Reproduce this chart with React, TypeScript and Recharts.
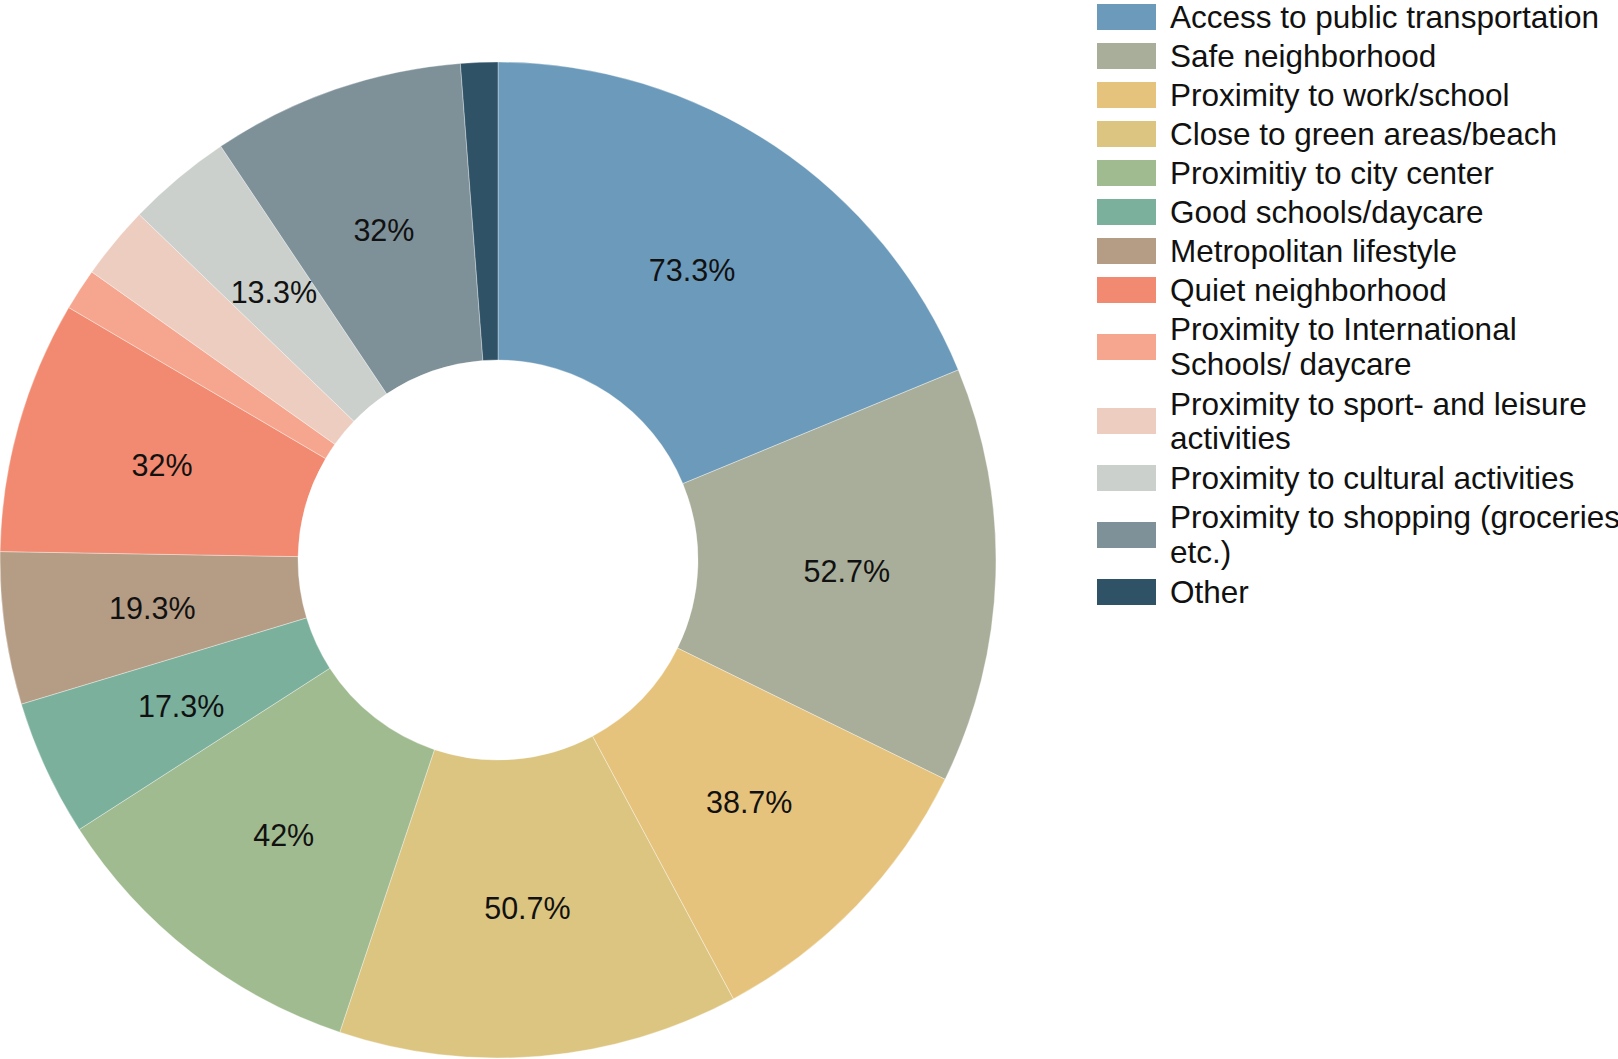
import React from 'react';
import { PieChart, Pie, Cell, Legend } from 'recharts';

const categories = [
  'Access to public transportation',
  'Safe neighborhood',
  'Proximity to work/school',
  'Close to green areas/beach',
  'Proximitiy to city center',
  'Good schools/daycare',
  'Metropolitan lifestyle',
  'Quiet neighborhood',
  'Proximity to International Schools/ daycare',
  'Proximity to sport- and leisure activities',
  'Proximity to cultural activities',
  'Proximity to shopping (groceries etc.)',
  'Other',
];

const legendLines: string[][] = [
  ['Access to public transportation'],
  ['Safe neighborhood'],
  ['Proximity to work/school'],
  ['Close to green areas/beach'],
  ['Proximitiy to city center'],
  ['Good schools/daycare'],
  ['Metropolitan lifestyle'],
  ['Quiet neighborhood'],
  ['Proximity to International', 'Schools/ daycare'],
  ['Proximity to sport- and leisure', 'activities'],
  ['Proximity to cultural activities'],
  ['Proximity to shopping (groceries', 'etc.)'],
  ['Other'],
];

const values = [73.3, 52.7, 38.7, 50.7, 42, 17.3, 19.3, 32, 5.3, 9.3, 13.3, 32, 4.7];
const showLabel = [true, true, true, true, true, true, true, true, false, false, true, true, false];

const colors = [
  '#6c9aba',
  '#a9ae9a',
  '#e6c37d',
  '#dcc580',
  '#a1bb90',
  '#7bb09d',
  '#b59c85',
  '#f18a70',
  '#f6a68f',
  '#eecdc1',
  '#cbd0cc',
  '#7e9098',
  '#2f5267',
];

const data = categories.map((name, i) => ({ name, value: values[i] }));

const FONT = '"Liberation Sans", Arial, sans-serif';
const RAD = Math.PI / 180;

const renderLabel = (props: any) => {
  const { cx, cy, midAngle, innerRadius, outerRadius, index, value } = props;
  if (!showLabel[index]) return null;
  const r = (innerRadius + outerRadius) / 2;
  const x = cx + r * Math.cos(-midAngle * RAD);
  const y = cy + r * Math.sin(-midAngle * RAD);
  return (
    <text
      x={x}
      y={y}
      fill="#111"
      textAnchor="middle"
      dominantBaseline="central"
      style={{ fontFamily: FONT, fontSize: 30.5 }}
    >
      {`${value}%`}
    </text>
  );
};

const renderLegend = () => (
  <div style={{ fontFamily: FONT, fontSize: 31.5, color: '#111', width: 521, overflow: 'hidden' }}>
    {legendLines.map((lines, i) => {
      const multi = lines.length > 1;
      return (
        <div
          key={i}
          style={{
            display: 'flex',
            alignItems: 'center',
            marginTop: multi ? 1.5 : 0,
            marginBottom: multi ? 5.5 : 5,
          }}
        >
          <div style={{ width: 59, height: 26, background: colors[i], flex: '0 0 auto', marginRight: 14 }} />
          <div style={{ lineHeight: multi ? '34.5px' : '34px', whiteSpace: 'nowrap' }}>
            {lines.map((l, j) => (
              <div key={j}>{l}</div>
            ))}
          </div>
        </div>
      );
    })}
  </div>
);

export default function App() {
  return (
    <div style={{ position: 'absolute', left: 0, top: 0, width: 1618, height: 1059, overflow: 'hidden', background: '#fff' }}>
      <PieChart width={1618} height={1059} margin={{ top: 0, right: 0, bottom: 0, left: 0 }}>
        <Pie
          data={data}
          dataKey="value"
          nameKey="name"
          cx={498}
          cy={560}
          innerRadius={200}
          outerRadius={498}
          startAngle={90}
          endAngle={-270}
          stroke="rgba(255,255,255,0.35)"
          strokeWidth={1}
          label={renderLabel}
          labelLine={false}
          isAnimationActive={false}
        >
          {data.map((d, i) => (
            <Cell key={d.name} fill={colors[i]} />
          ))}
        </Pie>
        <Legend
          layout="vertical"
          content={renderLegend}
          wrapperStyle={{ position: 'absolute', left: 1097, top: 0, width: 521 }}
        />
      </PieChart>
    </div>
  );
}
